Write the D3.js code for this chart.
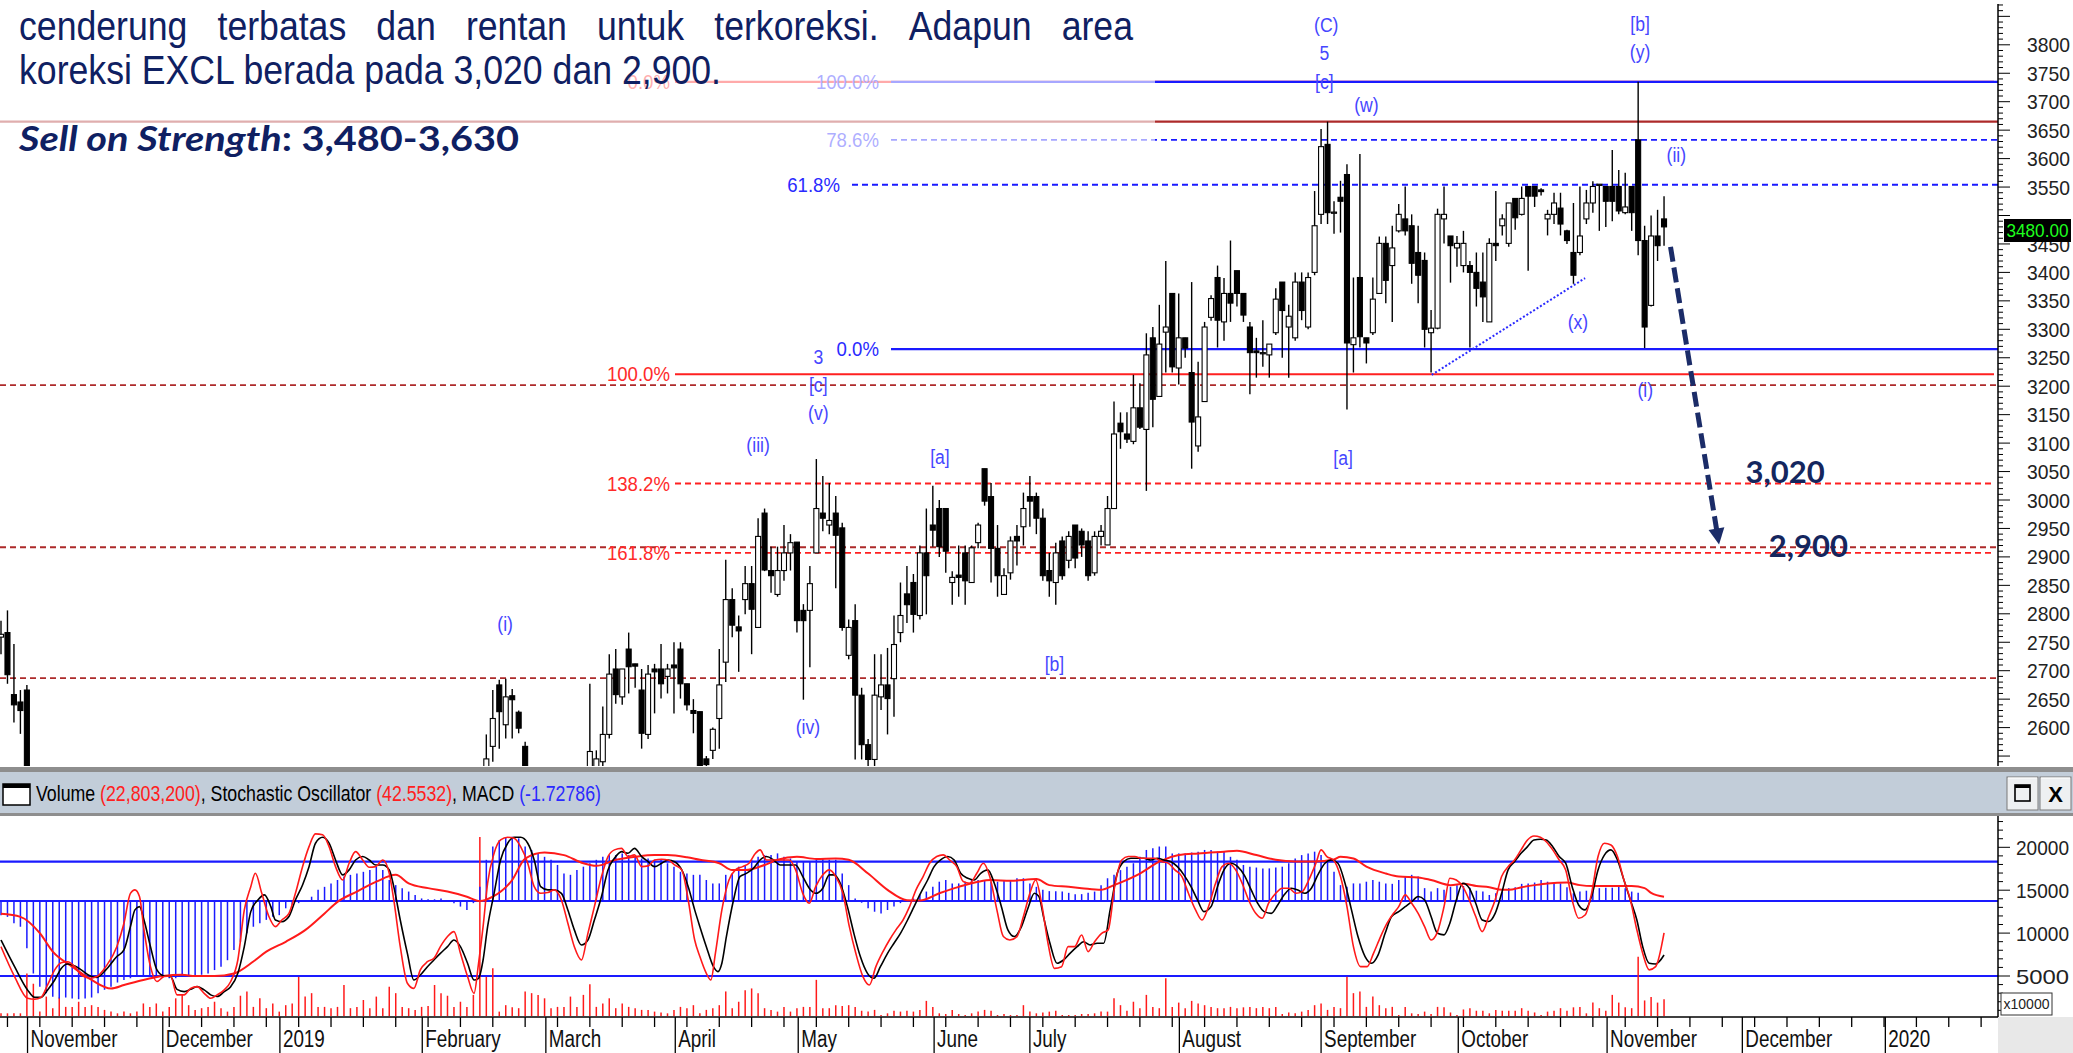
<!DOCTYPE html>
<html><head><meta charset="utf-8">
<script src="https://cdn.jsdelivr.net/npm/d3@7"></script>
<style>body{margin:0;background:#fff;overflow:hidden}svg{display:block}</style>
</head><body>
<svg id="c" width="2073" height="1053"></svg>
<script>
// ---------------- DATA ----------------
const ohlc = [
[2759,2788,2729,2764],[2767,2806,2677,2693],[2658,2747,2609,2640],[2645,2666,2589,2630],[2666,2675,2470,2490],
[2490,2500,2380,2400],[2400,2420,2320,2340],[2340,2360,2280,2300],[2300,2350,2270,2330],[2330,2380,2300,2360],
[2360,2400,2330,2380],[2380,2390,2330,2350],[2350,2360,2300,2320],[2320,2340,2280,2300],[2300,2330,2270,2310],
[2310,2360,2300,2350],[2350,2400,2340,2390],[2390,2440,2370,2420],[2420,2470,2400,2450],[2450,2480,2420,2440],
[2440,2460,2390,2400],[2400,2420,2350,2360],[2360,2380,2300,2320],[2320,2340,2270,2290],[2290,2310,2250,2270],
[2270,2300,2240,2280],[2280,2300,2230,2250],[2250,2270,2200,2220],[2220,2260,2200,2240],[2240,2260,2210,2230],
[2230,2250,2190,2210],[2210,2230,2180,2200],[2200,2240,2190,2230],[2230,2260,2210,2250],[2250,2290,2240,2280],
[2280,2340,2270,2330],[2330,2390,2320,2380],[2380,2440,2370,2420],[2420,2460,2380,2400],[2400,2420,2360,2380],
[2380,2400,2350,2370],[2370,2410,2360,2400],[2400,2450,2390,2440],[2440,2490,2430,2480],[2480,2520,2470,2510],
[2510,2525,2490,2500],[2500,2522,2480,2515],[2515,2524,2495,2505],[2505,2520,2490,2515],[2515,2524,2495,2510],
[2510,2520,2480,2490],[2490,2515,2470,2505],[2505,2522,2495,2515],[2515,2524,2500,2510],[2510,2520,2485,2495],
[2495,2510,2460,2470],[2470,2490,2420,2440],[2440,2460,2400,2420],[2420,2470,2410,2460],[2460,2500,2450,2480],
[2480,2500,2440,2450],[2450,2470,2410,2430],[2430,2440,2390,2400],[2400,2420,2370,2390],[2390,2430,2380,2420],
[2420,2450,2400,2430],[2430,2460,2410,2440],[2440,2460,2400,2410],[2410,2430,2380,2390],[2390,2400,2350,2370],
[2370,2420,2360,2410],[2410,2470,2400,2460],[2460,2515,2450,2505],[2505,2522,2490,2515],[2515,2524,2500,2520],
[2520,2588,2505,2545],[2567,2666,2540,2616],[2675,2684,2563,2628],[2605,2686,2581,2654],[2656,2668,2581,2649],
[2627,2630,2590,2599],[2567,2575,2500,2530],
[2525,2525,2470,2480],[2480,2500,2440,2460],[2460,2480,2420,2440],[2440,2470,2420,2460],[2460,2500,2450,2480],
[2480,2520,2470,2500],[2500,2522,2480,2490],[2490,2515,2470,2505],[2505,2524,2490,2515],
[2505,2677,2480,2558],[2520,2560,2500,2545],[2540,2637,2530,2588],[2588,2729,2581,2694],[2703,2738,2642,2658],
[2654,2703,2640,2703],[2738,2767,2660,2707],[2712,2712,2670,2708],[2666,2703,2563,2590],[2588,2710,2580,2694],
[2703,2712,2625,2698],[2703,2747,2651,2677],[2690,2712,2660,2703],[2710,2750,2625,2705],[2738,2750,2651,2677],
[2677,2677,2630,2640],[2630,2650,2590,2625],[2628,2628,2520,2530],[2545,2550,2520,2535],[2560,2600,2545,2597],
[2616,2738,2563,2675],[2715,2895,2680,2825],[2825,2845,2759,2780],[2777,2797,2698,2770],[2825,2884,2799,2853],
[2853,2884,2729,2808],[2776,2968,2776,2936],[2977,2985,2875,2877],[2876,2918,2837,2867],[2834,2918,2830,2876],
[2876,2956,2858,2907],[2907,2940,2876,2925],[2926,2926,2767,2788],[2806,2817,2649,2788],[2806,2884,2706,2853],
[2907,3072,2907,2985],[2977,3042,2945,2968],[2956,3030,2940,2964],[2977,3007,2845,2938],[2951,2960,2770,2776],
[2727,2790,2720,2776],[2788,2817,2544,2657],[2657,2670,2544,2570],[2570,2580,2530,2544],[2544,2729,2530,2657],
[2654,2729,2631,2675],[2675,2740,2588,2651],[2686,2797,2619,2746],[2767,2855,2750,2797],[2835,2884,2784,2816],
[2855,2870,2767,2799],[2797,2920,2790,2907],[2907,2985,2799,2867],[2956,3025,2918,2947],[2985,3000,2900,2918],
[2985,2985,2872,2910],[2855,2875,2816,2864],[2868,2920,2830,2864],[2907,2920,2816,2858],[2855,2920,2855,2916],
[2925,2960,2915,2956],[3055,3055,2990,2998],[3006,3030,2855,2915],[2915,2956,2830,2867],[2834,2880,2834,2867],
[2872,2936,2860,2928],[2936,2956,2885,2928],[2953,3013,2920,2985],[3006,3042,2953,2998],[3006,3013,2940,2968],
[2968,2985,2858,2867],[2876,2907,2830,2858],[2855,2925,2816,2907],[2928,2936,2860,2867],[2894,2945,2880,2936],
[2956,2956,2880,2898],[2945,2950,2900,2921],[2928,2945,2858,2867],[2872,2945,2867,2936],[2936,2956,2920,2945],
[2921,3007,2921,2985],[2985,3173,2985,3116],[3135,3154,3090,3120],[3116,3154,3100,3107],[3103,3220,3098,3162],
[3162,3205,3125,3128],[3124,3293,3016,3255],[3285,3304,3128,3177],[3182,3343,3182,3274],[3295,3420,3224,3304],
[3363,3363,3224,3234],[3232,3363,3203,3285],[3285,3285,3250,3267],[3224,3383,3055,3137],[3095,3243,3085,3146],
[3173,3313,3173,3304],[3321,3360,3315,3354],[3391,3412,3268,3316],[3313,3390,3280,3363],[3363,3456,3313,3346],
[3403,3403,3340,3363],[3363,3363,3313,3325],[3304,3313,3186,3259],[3262,3285,3215,3259],[3259,3316,3234,3259],
[3255,3274,3215,3274],[3294,3372,3290,3353],[3383,3383,3250,3333],[3304,3343,3215,3323],[3285,3400,3280,3383],
[3383,3400,3316,3333],[3304,3400,3300,3391],[3400,3543,3395,3482],[3502,3652,3485,3621],[3625,3665,3485,3505],
[3506,3525,3468,3506],[3532,3561,3470,3525],[3572,3590,3159,3276],[3273,3391,3224,3285],[3391,3608,3268,3287],
[3285,3285,3240,3276],[3294,3391,3290,3353],[3363,3463,3363,3451],[3451,3463,3346,3386],[3412,3482,3313,3443],
[3473,3520,3470,3502],[3494,3551,3465,3473],[3482,3502,3380,3416],[3435,3482,3346,3395],[3421,3435,3268,3300],
[3294,3334,3224,3302],[3302,3512,3300,3502],[3494,3551,3451,3502],[3464,3464,3382,3447],[3443,3464,3410,3451],
[3412,3473,3400,3451],[3412,3420,3268,3400],[3400,3435,3340,3372],[3383,3435,3313,3357],[3313,3460,3313,3451],
[3451,3543,3420,3447],[3482,3502,3465,3494],[3451,3522,3445,3522],[3530,3530,3475,3496],[3502,3551,3500,3530],
[3551,3551,3403,3534],[3551,3551,3515,3534],[3545,3548,3535,3542],[3494,3510,3465,3502],[3502,3540,3485,3522],
[3513,3540,3465,3485],[3473,3475,3450,3456],[3435,3522,3380,3395],[3435,3551,3430,3464],[3494,3545,3485,3522],
[3522,3560,3505,3551],[3555,3555,3473,3555],[3551,3551,3480,3525],[3551,3615,3490,3525],[3551,3580,3502,3508],
[3505,3575,3502,3515],[3551,3551,3473,3505],[3633,3735,3430,3456],[3456,3482,3267,3304],[3342,3500,3340,3464],
[3464,3510,3420,3447],[3494,3534,3447,3480]
];
// volume in units of 10,000 shares
const volume = [
650,650,650,650,5300,4100,850,2600,1250,2500,1400,1400,2000,1400,1600,1400,1050,850,650,850,
650,850,1800,1400,1800,850,1400,2400,2800,1600,1050,1250,1400,2000,1250,850,1400,2700,3200,1400,
2400,1250,1800,850,1600,1800,4900,2600,3000,1400,1400,1250,1400,3950,1250,1400,2200,1250,2600,1250,
3750,3000,1400,1250,1050,1400,1500,3950,3000,2700,1400,2000,1400,2800,21200,4900,5900,850,1600,1350,
1250,3200,3000,2800,2400,1250,1400,1400,2600,1400,2800,4050,1400,1800,2400,1250,1800,1400,1250,1050,
1050,850,750,650,1050,1400,1250,1600,
650,1050,1250,1600,3200,1250,2000,3350,3550,3000,1250,1050,850,1400,850,1250,1400,1400,4550,1250,
1250,1600,1500,1600,1400,950,850,1050,450,650,950,850,950,850,1050,2100,1400,650,570,1050,
570,450,650,850,1050,950,450,570,450,450,1600,850,650,750,850,950,450,450,450,570,
570,650,850,850,2400,1600,950,2000,1250,2800,1400,1250,4750,1400,1900,1250,2100,1800,1600,1400,
1250,1250,1400,1250,1350,1400,1250,1400,1250,1400,570,750,650,850,1050,1600,1800,1050,1400,1250,
4900,3000,3200,1400,2600,1600,1250,1400,
450,1400,650,570,850,570,1400,1350,750,450,1100,1250,950,950,650,1050,950,950,950,1250,
950,750,450,850,950,1250,950,1350,1400,650,1900,1250,950,2800,1900,1350,1250,7250,2150,2550,
1900,2280
];
const macdHist = [
-33,-37,-52,-60,-110,-169,-200,-215,-223,-227,-225,-227,-229,-227,-225,-215,-207,-200,-190,-184,
-180,-176,-175,-175,-175,-178,-180,-180,-176,-176,-175,-172,-169,-161,-153,-138,-114,-95,-75,-60,
-52,-44,-37,-33,-17,-9,-5,-2,10,26,33,41,49,57,61,64,68,72,80,72,
49,37,30,22,14,6,4,4,6,2,-5,-13,-21,-5,33,96,127,142,148,150,
146,127,119,111,103,96,84,64,61,72,80,88,96,103,107,107,111,107,103,99,
99,96,96,88,80,68,64,61,
61,49,41,41,61,64,80,84,96,103,107,107,111,103,99,92,92,92,96,99,
96,96,64,37,6,-4,-17,-25,-29,-21,-13,-5,-2,6,14,22,33,45,49,41,
41,45,49,49,49,45,45,49,49,53,53,41,33,26,23,23,22,19,16,16,
19,22,37,53,61,72,80,88,103,119,123,127,127,111,111,111,113,115,119,119,
115,115,103,96,84,80,78,76,76,78,80,88,99,107,111,115,107,92,68,37,
33,41,41,45,49,45,41,40,
49,58,61,57,30,22,30,26,33,37,35,31,24,22,14,18,22,30,32,40,
41,43,49,45,43,41,32,18,22,24,26,30,31,31,33,30,22,19,1,-1,
-1,-2
];
const macdSignal = [[0,-30],[3,-37],[6,-75],[8,-118],[11,-153],[14,-184],[17,-204],[19,-196],[22,-184],[25,-175],[28,-172],[30,-175],[33,-175],[36,-169],[39,-141],[41,-118],[44,-95],[47,-68],[50,-29],[52,-2],[55,22],[58,45],[61,61],[63,41],[66,30],[69,22],[72,10],[74,0],[76,10],[79,49],[81,99],[84,113],[87,107],[90,88],[92,82],[95,96],[98,103],[101,107],[103,107],[106,102],[108,96],[111,88],[113,72],[115,72],[118,84],[120,96],[123,103],[126,98],[129,99],[131,96],[134,64],[137,26],[140,2],[142,1],[145,18],[148,33],[151,45],[153,49],[156,47],[160,51],[162,37],[165,33],[167,30],[170,26],[172,37],[176,64],[179,92],[182,107],[185,111],[189,115],[191,117],[194,107],[197,96],[200,92],[203,92],[206,97],[207,103],[209,99],[211,80],[214,64],[216,57],[219,55],[221,49],[224,37],[226,40],[228,35],[230,32],[232,26],[233,26],[235,32],[237,37],[239,41],[242,43],[244,37],[246,35],[248,35],[250,35],[252,35],[254,30],[255,19],[257,10]];
const stochD = [[0,38.9],[2.1,24.9],[4.1,12.7],[5.2,8.8],[6.2,8.8],[7.2,12.7],[8.3,17.9],[9.3,24.0],[10.3,26.3],[11.4,25.3],[12.4,23.2],[13.8,20.0],[14.8,19.3],[16.2,23.2],[17.9,30.2],[19.0,33.7],[20.0,45.9],[20.7,54.7],[21.4,56.4],[22.1,49.4],[23.1,35.4],[24.1,23.2],[25.2,20.0],[26.2,19.7],[27.2,13.0],[28.3,11.8],[29.3,13.0],[30.3,14.4],[31.4,12.7],[32.4,10.1],[33.4,9.2],[34.5,11.8],[35.5,14.4],[36.6,21.4],[37.6,35.4],[38.6,53.8],[39.7,59.9],[40.7,62.6],[41.7,56.4],[42.4,49.4],[43.4,48.5],[44.5,51.2],[45.5,59.9],[46.6,67.8],[47.6,77.4],[48.6,89.7],[49.7,92.8],[50.7,89.7],[51.7,80.9],[52.8,73.1],[53.8,75.7],[54.8,80.9],[55.9,82.7],[56.9,80.9],[57.9,78.3],[59.0,78.3],[60.0,75.7],[60.7,66.9],[61.7,49.4],[62.8,31.9],[63.8,17.9],[64.8,20.5],[65.9,24.9],[66.9,28.4],[67.9,31.9],[69.0,35.4],[70.0,38.9],[71.0,35.4],[72.1,26.7],[73.1,17.9],[73.8,18.8],[74.5,28.4],[75.2,45.9],[76.2,63.4],[77.2,80.9],[78.3,89.7],[79.3,92.8],[80.3,92.8],[81.4,89.7],[82.4,80.9],[83.4,66.9],[84.5,65.2],[85.5,65.2],[86.6,63.4],[87.6,54.7],[88.6,44.2],[89.7,36.3],[90.7,38.9],[91.7,49.4],[92.8,61.7],[93.8,75.7],[94.8,81.8],[95.9,85.3],[96.9,84.4],[97.9,87.0],[99.0,82.7],[100.0,80.0],[101.0,77.4],[102.1,79.2],[103.1,80.9],[104.1,80.0],[105.2,75.7],[106.2,66.9],[107.2,54.7],
[108.0,45.9],[109.0,35.4],[110.1,24.9],[110.8,22.3],[111.4,26.7],[112.1,40.7],[113.2,59.9],[114.2,72.2],[115.2,73.9],[116.3,76.6],[117.3,80.9],[118.3,82.7],[119.4,80.9],[120.4,78.3],[121.8,78.3],[122.8,78.3],[123.9,72.2],[124.9,66.1],[125.9,63.4],[127.0,66.1],[128.0,73.1],[128.7,73.1],[129.7,68.7],[130.8,56.4],[131.8,42.4],[132.8,30.2],[133.9,21.4],[134.9,18.8],[135.9,24.9],[137.0,31.9],[138.0,37.2],[139.0,42.4],[140.1,49.4],[141.1,56.4],[142.1,63.4],[143.2,70.4],[144.2,77.4],[145.2,80.9],[146.3,82.7],[147.3,80.9],[148.3,73.9],[149.4,71.3],[150.4,70.4],[151.4,73.9],[152.5,75.7],[153.5,68.7],[154.6,56.4],[155.6,44.2],[156.6,40.7],[157.7,45.9],[158.7,55.6],[159.7,63.4],[160.4,61.7],[161.1,51.2],[162.1,37.2],[163.2,26.7],[164.2,28.4],[165.2,31.9],[166.3,35.4],[167.3,38.0],[168.3,36.3],[169.4,37.2],[170.4,37.2],[171.4,54.7],[172.5,73.9],[173.5,80.0],[174.6,81.8],[175.6,81.8],[176.6,81.8],[177.7,80.9],[178.7,81.8],[179.7,80.9],[180.8,80.0],[181.8,77.4],[182.8,73.1],[183.9,66.9],[184.9,59.9],[185.9,53.8],[187.0,56.4],[188.0,66.9],[189.0,75.7],[190.1,79.2],[191.1,77.4],[192.1,73.1],[193.2,65.2],[194.2,58.2],[195.2,53.8],[196.3,52.9],[197.3,57.3],[198.3,62.6],[199.4,66.1],[200.4,65.2],[201.4,63.4],[202.5,66.1],[203.5,73.1],[204.6,79.2],[205.6,80.9],[206.6,79.2],[207.7,68.7],[208.7,54.7],[209.7,40.7],[210.8,30.2],[211.8,26.7],[212.8,31.0],[213.9,42.4],[214.9,51.2],
[216.0,53.8],[217.0,56.4],[218.0,59.0],[219.0,61.7],[220.0,59.9],[221.0,51.2],[222.0,42.4],[223.0,41.6],[223.9,47.7],[224.9,59.9],[225.9,68.7],[226.9,66.1],[227.9,58.2],[228.9,49.4],[229.9,48.6],[230.9,52.9],[231.9,63.4],[232.9,75.7],[233.9,80.0],[234.9,84.4],[235.9,87.9],[236.9,91.4],[237.9,91.8],[238.8,91.4],[239.8,87.9],[240.8,82.7],[241.8,79.2],[242.8,66.9],[243.8,57.3],[244.8,54.7],[245.8,61.7],[246.8,75.7],[247.8,83.6],[248.8,86.2],[249.8,80.9],[250.8,70.4],[251.8,59.9],[252.8,49.4],[253.7,35.4],[254.7,26.7],[255.7,26.3],[257,31.0]];
const stochK = [[0,35.4],[2.1,19.7],[4.1,8.3],[5.2,7.8],[6.2,8.8],[7.2,15.3],[8.3,23.2],[9.3,27.0],[10.3,27.5],[11.4,24.9],[12.4,20.5],[13.8,18.8],[14.8,19.7],[16.2,24.9],[17.9,35.4],[19.0,47.7],[20.0,63.4],[20.7,65.2],[21.4,61.7],[22.1,44.2],[23.1,24.9],[24.1,17.1],[25.2,19.7],[26.2,20.0],[27.2,10.1],[28.3,10.1],[29.3,13.5],[30.3,14.4],[31.4,10.9],[32.4,8.3],[33.4,10.1],[34.5,12.7],[35.5,17.1],[36.6,28.4],[37.6,54.7],[38.6,66.9],[39.3,73.9],[40.3,63.4],[41.4,51.2],[42.4,45.9],[43.4,49.4],[44.5,52.9],[45.5,63.4],[46.6,77.4],[47.6,87.9],[48.6,94.6],[49.7,94.1],[50.7,87.9],[51.7,77.4],[52.8,70.4],[53.8,79.2],[54.8,85.3],[55.9,80.9],[56.9,77.1],[57.9,77.4],[59.0,80.9],[60.0,73.9],[60.7,59.9],[61.7,35.4],[62.8,16.2],[63.8,13.5],[64.8,23.2],[65.9,27.5],[66.9,29.3],[67.9,35.4],[69.0,40.7],[70.0,43.3],[71.0,31.9],[72.1,19.7],[73.1,10.9],[73.8,26.7],[74.5,45.9],[75.2,68.7],[76.2,84.4],[77.2,91.4],[78.3,92.8],[79.3,92.3],[80.3,87.9],[81.4,79.2],[82.4,66.9],[83.4,63.4],[84.5,63.8],[85.5,65.2],[86.6,59.9],[87.6,47.7],[88.6,35.4],[89.7,28.4],[90.7,42.4],[91.7,56.4],[92.8,72.2],[93.8,82.7],[94.8,86.2],[95.9,87.0],[96.9,82.7],[97.9,83.6],[99.0,77.4],[100.0,77.8],[101.0,80.9],[102.1,81.3],[103.1,80.9],[104.1,78.3],[105.2,75.7],[106.2,59.9],[107.2,38.9],
[108.0,30.2],[109.0,21.4],[109.7,17.9],[110.4,31.9],[111.4,54.7],[112.5,70.4],[113.5,75.7],[114.6,77.4],[115.6,79.2],[116.6,84.4],[117.3,86.2],[118.3,80.9],[119.4,80.9],[120.4,80.9],[121.8,80.9],[122.8,75.7],[123.9,63.4],[124.9,58.2],[125.9,66.9],[127.0,73.1],[128.0,75.7],[129.0,72.2],[130.1,63.4],[131.1,45.9],[132.1,31.9],[133.2,19.7],[134.2,15.3],[135.2,24.9],[136.3,32.8],[137.3,38.9],[138.3,44.2],[139.4,49.4],[140.4,56.4],[141.4,65.2],[142.5,72.2],[143.5,79.2],[144.6,82.7],[145.6,83.6],[146.6,80.9],[147.7,77.4],[148.7,69.6],[149.7,68.7],[150.8,73.9],[151.8,79.2],[152.8,72.2],[153.9,54.7],[154.9,40.7],[155.9,38.9],[157.0,40.7],[158.0,51.2],[159.0,63.4],[159.9,70.4],[160.8,58.2],[161.8,37.2],[162.8,24.0],[163.9,24.9],[164.9,35.4],[165.9,35.4],[167.0,41.5],[168.0,32.8],[169.0,38.0],[170.1,42.4],[171.1,44.2],[172.1,66.9],[173.2,80.9],[174.2,82.7],[175.2,82.7],[176.3,81.8],[177.3,81.8],[178.3,81.8],[179.4,80.0],[180.4,79.2],[181.4,75.7],[182.5,72.2],[183.5,63.4],[184.6,54.7],[185.6,49.4],[186.6,56.4],[187.7,68.7],[188.7,77.4],[189.7,79.2],[190.8,75.7],[191.8,68.7],[192.8,59.9],[193.9,52.9],[194.9,50.3],[195.9,58.2],[197.0,63.4],[198.0,66.1],[199.0,66.1],[200.1,63.4],[201.1,64.3],[202.1,70.4],[203.2,79.2],[204.0,86.2],[204.9,82.7],[205.9,80.9],[207.0,72.2],[208.0,56.4],[209.0,35.4],[210.1,24.9],[211.1,24.9],[212.1,31.9],[213.2,40.7],[214.2,47.7],[215.2,52.9],
[216.0,56.4],[217.0,62.6],[218.0,58.2],[219.0,52.9],[220.0,45.9],[221.0,38.9],[222.0,43.3],[223.0,56.4],[223.9,71.3],[224.9,70.4],[225.9,66.9],[226.9,59.9],[227.9,51.2],[228.9,43.3],[229.9,51.2],[230.9,59.9],[231.9,72.2],[232.9,77.4],[233.9,80.9],[234.9,86.2],[235.9,91.4],[236.9,93.5],[237.9,92.8],[238.8,90.5],[239.8,86.2],[240.8,80.9],[241.8,75.7],[242.8,59.9],[243.8,50.3],[244.8,52.0],[245.8,63.4],[246.8,82.7],[247.8,89.7],[248.8,88.8],[249.8,82.7],[250.8,70.4],[251.8,59.9],[252.8,44.2],[253.7,31.9],[254.7,23.2],[255.7,24.9],[257,42.6]];

const monthLabels = ["November","December","2019","February","March","April","May","June","July","August","September","October","November","December","2020"];
const monthStarts = [4.1,25.0,43.1,65.1,84.2,104.2,123.2,144.2,159.0,182.1,204.0,225.2,248.2,269.1,291.2];
const priceLabels = [2600,2650,2700,2750,2800,2850,2900,2950,3000,3050,3100,3150,3200,3250,3300,3350,3400,3450,3550,3600,3650,3700,3750,3800];
const volLabels = [5000,10000,15000,20000];

const redFibLabels = ["0.0%","100.0%","138.2%","161.8%"];
const redFibValues = [3735,3221,3029,2907];
const redFibDashed = [false,false,true,true];
const blueFibLabels = ["100.0%","78.6%","61.8%","0.0%"];
const blueFibValues = [3735,3633,3554,3265];
const blueFibDashed = [false,true,true,false];
const blueFibStart = [891,891,852,891];
const darkRedValues = [3665,3202,2917,2687];
const darkRedDashed = [false,true,true,true];

const waveText  = ["(C)","5","[c]","(w)","[b]","(y)","(ii)","(x)","(i)","[a]","3","[c]","(v)","(iii)","[a]","(i)","(iv)","[b]"];
const waveIdx   = [204.8,204.5,204.5,211,253.3,253.3,258.9,243.7,254.1,207.4,126.3,126.3,126.3,117,145.1,77.9,124.7,162.8];
const wavePrice = [3835,3786,3735,3694,3837,3787,3606,3313,3193,3074,3251,3202,3153,3097,3076,2782,2601,2712];

const trendLine = [[221.1,3220],[244.8,3390]];
const arrowLine = [[258,3445],[265.5,2922]];
const targetText = ["3,020","2,900"];
const targetIdx = [275.7,279.3];
const targetPrice = [3049,2919];
const lastPrice = 3480;

// ---------------- LAYOUT ----------------
const W=2073, H=1053, AX=1998, MB=766;
const svg=d3.select('#c');
const x=d3.scaleLinear().domain([0,308.3]).range([1,1996]);
const y=d3.scaleLinear().domain([3800,2600]).range([44.8,727.6]);
const volY=d3.scaleLinear().domain([5000,20000]).range([976,847.3]);
const stY=d3.scaleLinear().domain([20,80]).range([976,861.7]);
const mY=d3.scaleLinear().domain([0,100]).range([901,858.1]);
const F="'Liberation Sans', Arial, sans-serif";
function squeeze(sel,f){sel.each(function(){const w=this.getComputedTextLength();this.setAttribute('textLength',w*f);this.setAttribute('lengthAdjust','spacingAndGlyphs');});}

const defs=svg.append('defs');
defs.append('clipPath').attr('id','cm').append('rect').attr('x',0).attr('y',0).attr('width',AX).attr('height',MB);
defs.append('clipPath').attr('id','cp').append('rect').attr('x',0).attr('y',816).attr('width',AX).attr('height',200);

svg.append('rect').attr('width',W).attr('height',H).attr('fill','#fff');

// ---------- MAIN ----------
const gm=svg.append('g').attr('clip-path','url(#cm)');
darkRedValues.forEach((v,k)=>{
  gm.append('line').attr('x1',0).attr('x2',AX).attr('y1',y(v)).attr('y2',y(v))
    .attr('stroke','#ad2a2a').attr('stroke-width',darkRedDashed[k]?1.8:2.2)
    .attr('stroke-dasharray',darkRedDashed[k]?'6,4':null);
});
redFibValues.forEach((v,k)=>{
  gm.append('line').attr('x1',675).attr('x2',1994).attr('y1',y(v)).attr('y2',y(v))
    .attr('stroke','#ff2020').attr('stroke-width',redFibDashed[k]?1.8:2.2)
    .attr('stroke-dasharray',redFibDashed[k]?'6,4':null);
  const t=gm.append('text').attr('x',670).attr('y',y(v)).attr('dy','0.36em').attr('text-anchor','end')
    .attr('font-family',F).attr('font-size',20).attr('fill','#ff2a2a').text(redFibLabels[k]);
  squeeze(t,0.93);
});
blueFibValues.forEach((v,k)=>{
  const x0=blueFibStart[k];
  gm.append('line').attr('x1',x0).attr('x2',AX).attr('y1',y(v)).attr('y2',y(v))
    .attr('stroke','#1a1aff').attr('stroke-width',blueFibDashed[k]?1.8:2.2)
    .attr('stroke-dasharray',blueFibDashed[k]?'6,4':null);
  const t=gm.append('text').attr('x',x0-12).attr('y',y(v)).attr('dy','0.36em').attr('text-anchor','end')
    .attr('font-family',F).attr('font-size',20).attr('fill','#2a2aff').text(blueFibLabels[k]);
  squeeze(t,0.93);
});
const cg=gm.append('g');
ohlc.forEach((d,i)=>{
  const [o,h,l,c]=d, cx=x(i);
  cg.append('line').attr('x1',cx).attr('x2',cx).attr('y1',y(h)).attr('y2',y(l)).attr('stroke','#000').attr('stroke-width',1.4);
  const top=y(Math.max(o,c)), bh=Math.max(1.2,Math.abs(y(o)-y(c)));
  cg.append('rect').attr('x',cx-2.5).attr('y',top).attr('width',5).attr('height',bh)
    .attr('fill',c>=o?'#fff':'#000').attr('stroke','#000').attr('stroke-width',1.1);
});
gm.append('line').attr('x1',x(trendLine[0][0])).attr('y1',y(trendLine[0][1]))
  .attr('x2',x(trendLine[1][0])).attr('y2',y(trendLine[1][1]))
  .attr('stroke','#2a2aff').attr('stroke-width',2).attr('stroke-dasharray','2,2');
waveText.forEach((t,k)=>{
  const e=gm.append('text').attr('x',x(waveIdx[k])).attr('y',y(wavePrice[k])).attr('dy','0.36em')
    .attr('text-anchor','middle').attr('font-family',F).attr('font-size',20).attr('fill','#4646ff').text(t);
  squeeze(e,0.88);
});
{
  const p0=[x(arrowLine[0][0]),y(arrowLine[0][1])], p1=[x(arrowLine[1][0]),y(arrowLine[1][1])];
  const dx=p1[0]-p0[0], dy=p1[1]-p0[1], L=Math.hypot(dx,dy), ux=dx/L, uy=dy/L;
  const e=[p1[0]-ux*10,p1[1]-uy*10];
  gm.append('line').attr('x1',p0[0]).attr('y1',p0[1]).attr('x2',e[0]).attr('y2',e[1])
    .attr('stroke','#1b2c68').attr('stroke-width',5).attr('stroke-dasharray','15,6');
  const b=[p1[0]-ux*16,p1[1]-uy*16], px=-uy, py=ux;
  gm.append('path').attr('d',`M${p1[0]},${p1[1]}L${b[0]+px*8},${b[1]+py*8}L${b[0]-px*8},${b[1]-py*8}Z`).attr('fill','#1b2c68');
}
targetText.forEach((t,k)=>{
  gm.append('text').attr('x',x(targetIdx[k])).attr('y',y(targetPrice[k])).attr('dy','0.36em')
    .attr('text-anchor','middle').attr('font-family','Lato, sans-serif').attr('font-weight',700)
    .attr('font-size',31).attr('fill','#14265e').text(t);
});
gm.append('rect').attr('x',0).attr('y',0).attr('width',1155).attr('height',165).attr('fill','#fff').attr('opacity',0.62);

// paragraph text
const TC='#0f2062', PF="'Liberation Sans Narrow','Liberation Sans', Arial, sans-serif";
{
  const l2=svg.append('text').attr('x',19).attr('y',84).attr('font-family',PF).attr('font-size',40).attr('fill',TC)
    .text('koreksi EXCL berada pada 3,020 dan 2,900.');
  const nat=l2.node().getComputedTextLength(); const f=702/nat;
  l2.attr('textLength',702).attr('lengthAdjust','spacingAndGlyphs');
  const words=['cenderung','terbatas','dan','rentan','untuk','terkoreksi.','Adapun','area'];
  const ws=words.map(w=>{const t=svg.append('text').attr('y',40).attr('font-family',PF).attr('font-size',40).attr('fill',TC).text(w);
    const wl=t.node().getComputedTextLength()*f; t.attr('textLength',wl).attr('lengthAdjust','spacingAndGlyphs'); return [t,wl];});
  const total=d3.sum(ws,d=>d[1]); const gap=(1133-19-total)/(words.length-1);
  let cx=19; ws.forEach(([t,wl])=>{t.attr('x',cx); cx+=wl+gap;});
  const s=svg.append('text').attr('x',19).attr('y',151).attr('font-family','Lato, sans-serif').attr('font-weight',700)
    .attr('font-size',35).attr('fill',TC);
  s.append('tspan').attr('font-style','italic').text('Sell on Strength');
  s.append('tspan').text(': 3,480-3,630');
  s.attr('textLength',500).attr('lengthAdjust','spacingAndGlyphs');
}

// price axis
svg.append('line').attr('x1',AX).attr('x2',AX).attr('y1',4).attr('y2',MB).attr('stroke','#000').attr('stroke-width',1.5);
for(let p=2540;p<=3870;p+=10){
  const major=p%50===0;
  svg.append('line').attr('x1',AX).attr('x2',AX+(major?12:5)).attr('y1',y(p)).attr('y2',y(p)).attr('stroke','#000').attr('stroke-width',1);
}
priceLabels.forEach(p=>{
  const t=svg.append('text').attr('x',2027).attr('y',y(p)).attr('dy','0.36em').attr('font-family',F).attr('font-size',21).attr('fill','#222').text(p);
  t.attr('textLength',43).attr('lengthAdjust','spacingAndGlyphs');
});
svg.append('rect').attr('x',2004).attr('y',219).attr('width',67).attr('height',23).attr('fill','#000');
svg.append('text').attr('x',2037.5).attr('y',230.5).attr('dy','0.36em').attr('text-anchor','middle')
  .attr('font-family',F).attr('font-size',19).attr('fill','#1eff1e').attr('textLength',62).attr('lengthAdjust','spacingAndGlyphs').text(lastPrice.toFixed(2));

// ---------- SEPARATOR + HEADER ----------
svg.append('rect').attr('x',0).attr('y',767).attr('width',W).attr('height',5).attr('fill','#8e8e8e');
svg.append('rect').attr('x',0).attr('y',772).attr('width',W).attr('height',41).attr('fill','#c2cdd9');
svg.append('rect').attr('x',0).attr('y',813).attr('width',W).attr('height',3).attr('fill','#8e8e8e');
svg.append('rect').attr('x',3).attr('y',784).attr('width',27).attr('height',21).attr('fill','#fff').attr('stroke','#000').attr('stroke-width',1.5);
svg.append('rect').attr('x',3).attr('y',784).attr('width',27).attr('height',4).attr('fill','#000');
{
  const t=svg.append('text').attr('x',36).attr('y',801).attr('font-family',F).attr('font-size',22).attr('fill','#000');
  t.append('tspan').text('Volume ');
  t.append('tspan').attr('fill','#ff2020').text('(22,803,200)');
  t.append('tspan').text(', Stochastic Oscillator ');
  t.append('tspan').attr('fill','#ff2020').text('(42.5532)');
  t.append('tspan').text(', MACD ');
  t.append('tspan').attr('fill','#2a2aff').text('(-1.72786)');
  t.attr('textLength',565).attr('lengthAdjust','spacingAndGlyphs');
}
[[2007,'max'],[2040,'close']].forEach(([bx,k])=>{
  svg.append('rect').attr('x',bx).attr('y',777).attr('width',31).attr('height',33).attr('fill','#eef0f2').attr('stroke','#7a7a7a');
  svg.append('line').attr('x1',bx+1).attr('x2',bx+30).attr('y1',778).attr('y2',778).attr('stroke','#fff');
  if(k==='max'){
    svg.append('rect').attr('x',bx+8).attr('y',785).attr('width',15).attr('height',16).attr('fill','none').attr('stroke','#000').attr('stroke-width',1.6);
    svg.append('rect').attr('x',bx+8).attr('y',785).attr('width',15).attr('height',3).attr('fill','#000');
  } else {
    svg.append('text').attr('x',bx+15.5).attr('y',802).attr('text-anchor','middle').attr('font-family',F).attr('font-weight',700).attr('font-size',22).attr('fill','#000').text('X');
  }
});

// ---------- INDICATOR PANEL ----------
const gp=svg.append('g').attr('clip-path','url(#cp)');
[stY(80),mY(0),stY(20)].forEach(v=>{
  gp.append('line').attr('x1',0).attr('x2',AX).attr('y1',v).attr('y2',v).attr('stroke','#1a1aff').attr('stroke-width',2.2);
});
volume.forEach((v,i)=>{
  gp.append('line').attr('x1',x(i)).attr('x2',x(i)).attr('y1',volY(0)).attr('y2',volY(v)).attr('stroke','#ff1a1a').attr('stroke-width',1.5);
});
macdHist.forEach((v,i)=>{
  gp.append('line').attr('x1',x(i)).attr('x2',x(i)).attr('y1',mY(0)).attr('y2',mY(v)).attr('stroke','#1a1aff').attr('stroke-width',1.5);
});
gp.append('path').attr('d',d3.line().x(d=>x(d[0])).y(d=>mY(d[1])).curve(d3.curveMonotoneX)(macdSignal))
  .attr('fill','none').attr('stroke','#ff1a1a').attr('stroke-width',2);
gp.append('path').attr('d',d3.line().x(d=>x(d[0])).y(d=>stY(d[1])).curve(d3.curveMonotoneX)(stochD))
  .attr('fill','none').attr('stroke','#000').attr('stroke-width',1.6);
gp.append('path').attr('d',d3.line().x(d=>x(d[0])).y(d=>stY(d[1])).curve(d3.curveMonotoneX)(stochK))
  .attr('fill','none').attr('stroke','#ff1a1a').attr('stroke-width',1.6);

svg.append('line').attr('x1',AX).attr('x2',AX).attr('y1',816).attr('y2',1017).attr('stroke','#000').attr('stroke-width',1.5);
for(let v=1000;v<=23000;v+=1000){
  const major=v%5000===0;
  svg.append('line').attr('x1',AX).attr('x2',AX+(major?12:5)).attr('y1',volY(v)).attr('y2',volY(v)).attr('stroke','#000');
}
volLabels.forEach(v=>{
  svg.append('text').attr('x',2016).attr('y',volY(v)).attr('dy','0.36em').attr('font-family',F).attr('font-size',21).attr('fill','#222')
    .attr('textLength',53).attr('lengthAdjust','spacingAndGlyphs').text(v);
});
svg.append('rect').attr('x',2001).attr('y',993).attr('width',51).attr('height',22).attr('fill','#fff').attr('stroke','#333');
svg.append('text').attr('x',2026.5).attr('y',1004).attr('dy','0.36em').attr('text-anchor','middle').attr('font-family',F).attr('font-size',15).attr('fill','#222')
  .attr('textLength',46).attr('lengthAdjust','spacingAndGlyphs').text('x10000');

// ---------- DATE AXIS ----------
svg.append('rect').attr('x',AX).attr('y',1017).attr('width',W-AX).attr('height',H-1017).attr('fill','#e8e8e8');
svg.append('line').attr('x1',0).attr('x2',AX).attr('y1',1017).attr('y2',1017).attr('stroke','#000').attr('stroke-width',1.5);
for(let i=1;i<308;i+=5){
  svg.append('line').attr('x1',x(i)).attr('x2',x(i)).attr('y1',1017).attr('y2',1027).attr('stroke','#000').attr('stroke-width',1.3);
}
monthLabels.forEach((m,k)=>{
  const mx=x(monthStarts[k]);
  svg.append('line').attr('x1',mx).attr('x2',mx).attr('y1',1017).attr('y2',H).attr('stroke','#000').attr('stroke-width',1.3);
  const t=svg.append('text').attr('x',mx+3).attr('y',1047).attr('font-family',F).attr('font-size',23).attr('fill','#111').text(m);
  squeeze(t,0.82);
});
</script>
</body></html>
